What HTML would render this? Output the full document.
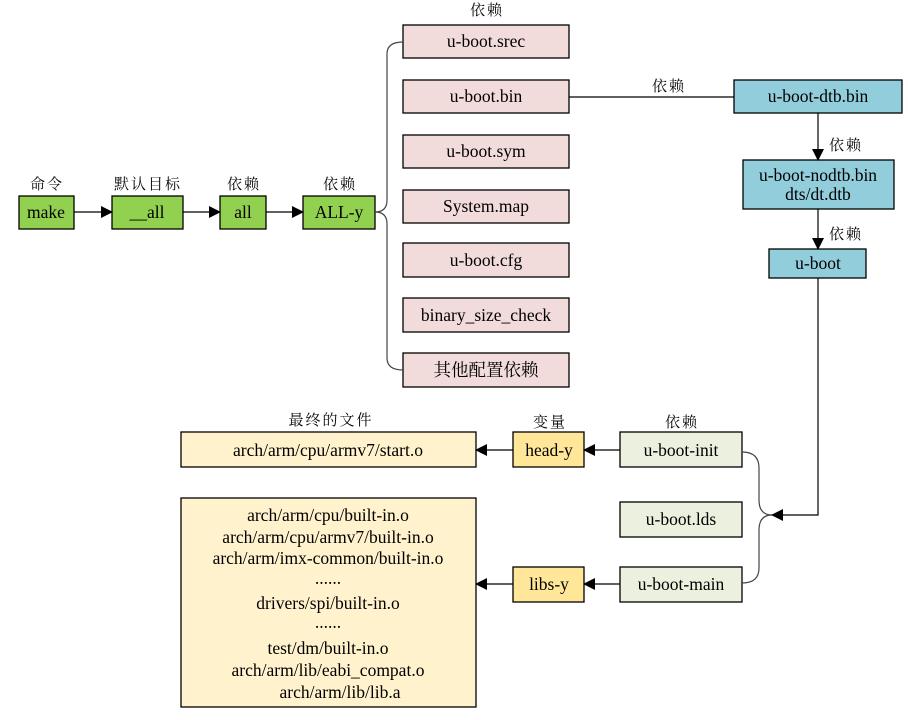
<!DOCTYPE html>
<html><head><meta charset="utf-8"><style>
html,body{margin:0;padding:0;background:#fff;}
svg{display:block;}
text{font-family:"Liberation Serif","Noto Serif CJK SC",serif;font-size:17.5px;fill:#000;}
.cn{font-family:"Liberation Serif","Noto Serif CJK SC",serif;font-size:15px;fill:#0a0a0a;letter-spacing:2px;}
</style></head><body>
<svg width="908" height="720" viewBox="0 0 908 720" xmlns="http://www.w3.org/2000/svg">
<defs><marker id="a" markerWidth="12" markerHeight="12" refX="11" refY="6" orient="auto" markerUnits="userSpaceOnUse"><path d="M0,0L12,6L0,12z" fill="#000"/></marker></defs>
<g stroke="#000" stroke-width="1.3">
<rect x="19" y="196" width="55" height="33" fill="#92d050"/>
<rect x="112" y="196" width="71" height="33" fill="#92d050"/>
<rect x="220" y="196" width="46" height="33" fill="#92d050"/>
<rect x="303" y="196" width="72" height="33" fill="#92d050"/>
<rect x="403" y="25" width="166" height="33" fill="#f2dcdb"/>
<rect x="403" y="80" width="166" height="33" fill="#f2dcdb"/>
<rect x="403" y="135" width="166" height="33" fill="#f2dcdb"/>
<rect x="403" y="190" width="166" height="33" fill="#f2dcdb"/>
<rect x="403" y="243" width="166" height="34" fill="#f2dcdb"/>
<rect x="403" y="298" width="166" height="34" fill="#f2dcdb"/>
<rect x="403" y="353" width="166" height="34" fill="#f2dcdb"/>
<rect x="734" y="80" width="168" height="33" fill="#92cddc"/>
<rect x="743" y="160" width="151" height="49" fill="#92cddc"/>
<rect x="769" y="249" width="97" height="29" fill="#92cddc"/>
<rect x="620" y="432" width="122" height="35" fill="#ebf1de"/>
<rect x="620" y="502" width="122" height="35" fill="#ebf1de"/>
<rect x="620" y="567" width="122" height="35" fill="#ebf1de"/>
<rect x="513" y="432" width="71" height="35" fill="#ffe699"/>
<rect x="513" y="567" width="71" height="35" fill="#ffe699"/>
<rect x="181" y="432" width="295" height="35" fill="#fff2cc"/>
<rect x="181" y="498" width="295" height="209" fill="#fff2cc"/>
</g>
<g stroke="#000" stroke-width="1.2" fill="none">
<line x1="74" y1="212" x2="112" y2="212" marker-end="url(#a)"/>
<line x1="183" y1="212" x2="220" y2="212" marker-end="url(#a)"/>
<line x1="266" y1="212" x2="303" y2="212" marker-end="url(#a)"/>
<path d="M375,212 Q387,212 387,200 L387,54 Q387,42 403,42" stroke="#444"/>
<path d="M375,212 Q387,212 387,224 L387,358 Q387,370 403,370" stroke="#444"/>
<line x1="569" y1="97" x2="734" y2="97"/>
<line x1="818" y1="113" x2="818" y2="160" marker-end="url(#a)"/>
<line x1="818" y1="209" x2="818" y2="249" marker-end="url(#a)"/>
<path d="M818,278 L818,515 L772,515" marker-end="url(#a)"/>
<path d="M742,452 Q759,452 759,468 L759,500 Q759,515 772,515" stroke="#444"/>
<path d="M742,583 Q759,583 759,568 L759,530 Q759,515 772,515" stroke="#444"/>
<line x1="620" y1="450" x2="584" y2="450" marker-end="url(#a)"/>
<line x1="513" y1="450" x2="476" y2="450" marker-end="url(#a)"/>
<line x1="620" y1="584" x2="584" y2="584" marker-end="url(#a)"/>
<line x1="513" y1="584" x2="476" y2="584" marker-end="url(#a)"/>
</g>
<g text-anchor="middle">
<text x="46" y="218">make</text>
<text x="147" y="218">__all</text>
<text x="243" y="218">all</text>
<text x="339" y="218">ALL-y</text>
<text x="486" y="47">u-boot.srec</text>
<text x="486" y="102">u-boot.bin</text>
<text x="486" y="157">u-boot.sym</text>
<text x="486" y="212">System.map</text>
<text x="486" y="266">u-boot.cfg</text>
<text x="486" y="321">binary_size_check</text>
<text x="486" y="376">其他配置依赖</text>
<text x="818" y="102">u-boot-dtb.bin</text>
<text x="818" y="181">u-boot-nodtb.bin</text>
<text x="818" y="200">dts/dt.dtb</text>
<text x="818" y="269">u-boot</text>
<text x="681" y="456">u-boot-init</text>
<text x="681" y="525">u-boot.lds</text>
<text x="681" y="590">u-boot-main</text>
<text x="549" y="456">head-y</text>
<text x="549" y="590">libs-y</text>
<text x="328" y="456">arch/arm/cpu/armv7/start.o</text>
<text x="328" y="521">arch/arm/cpu/built-in.o</text>
<text x="328" y="543">arch/arm/cpu/armv7/built-in.o</text>
<text x="328" y="564">arch/arm/imx-common/built-in.o</text>
<text x="328" y="584">......</text>
<text x="328" y="609">drivers/spi/built-in.o</text>
<text x="328" y="628">......</text>
<text x="328" y="654">test/dm/built-in.o</text>
<text x="328" y="676">arch/arm/lib/eabi_compat.o</text>
<text x="340" y="698">arch/arm/lib/lib.a</text>
<text class="cn" x="47" y="189">命令</text>
<text class="cn" x="148" y="189">默认目标</text>
<text class="cn" x="244" y="189">依赖</text>
<text class="cn" x="340" y="189">依赖</text>
<text class="cn" x="487" y="15">依赖</text>
<text class="cn" x="669" y="91">依赖</text>
<text class="cn" x="846" y="150">依赖</text>
<text class="cn" x="846" y="239">依赖</text>
<text class="cn" x="682" y="427">依赖</text>
<text class="cn" x="550" y="427">变量</text>
<text class="cn" x="331" y="425">最终的文件</text>
</g>
</svg>
</body></html>
